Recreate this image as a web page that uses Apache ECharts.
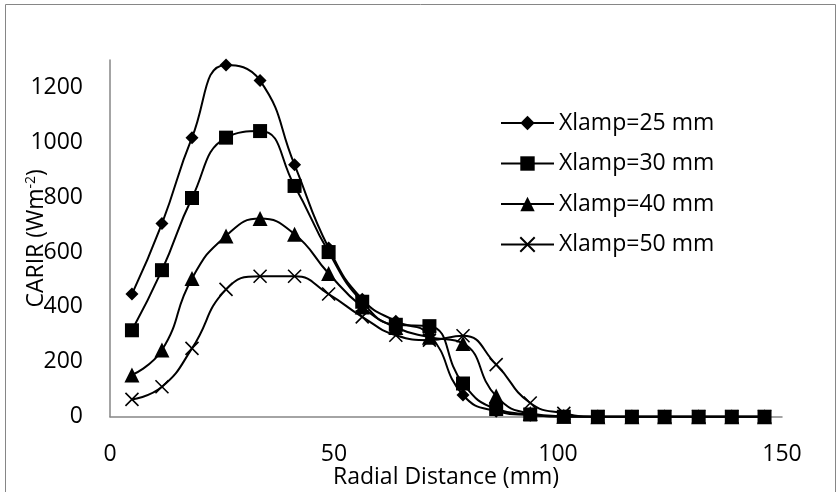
<!DOCTYPE html>
<html>
<head>
<meta charset="utf-8">
<script src="https://cdn.jsdelivr.net/npm/echarts@6/dist/echarts.min.js"></script>
<style>html,body{margin:0;padding:0;background:#fff;}#c{width:838px;height:492px;}</style>
</head>
<body>
<div id="c"></div>
<script>
const xVals = [4.9, 11.6, 18.3, 25.9, 33.5, 41.2, 48.8, 56.3, 63.8, 71.3, 78.8, 86.2, 93.8, 101.3, 108.9, 116.5, 123.8, 131.4, 138.8, 146.1];
const s25 = [447, 704, 1017, 1282, 1225, 918, 615, 428, 348, 298, 79, 20, 5, 0, 0, 0, 0, 0, 0, 0];
const s30 = [315, 534, 797, 1017, 1041, 841, 600, 419, 335, 330, 121, 28, 8, 0, 0, 0, 0, 0, 0, 0];
const s40 = [152, 243, 504, 659, 722, 665, 522, 400, 325, 290, 267, 75, 12, 2, 0, 0, 0, 0, 0, 0];
const s50 = [63, 109, 249, 464, 512, 512, 447, 364, 297, 279, 295, 190, 50, 12, 0, 0, 0, 0, 0, 0];
const seriesNames = ['Xlamp=25 mm', 'Xlamp=30 mm', 'Xlamp=40 mm', 'Xlamp=50 mm'];
const xTicks = [0, 50, 100, 150];
const yTicks = [0, 200, 400, 600, 800, 1000, 1200];

const FONT = 'Open Sans';
const FS = 23;
const pair = (ys) => xVals.map((x, i) => [x, ys[i]]);
const crossPath = 'path://M0,0 L10,10 M10,0 L0,10';

function mk(name, data, symbol, size, z, extra) {
  return Object.assign({
    name: name, type: 'line', data: pair(data), smooth: 0.5,
    symbol: symbol, symbolSize: size, z: z,
    lineStyle: {color: '#000', width: 2},
    itemStyle: {color: '#000', borderColor: '#000', borderWidth: 0},
    emphasis: {disabled: true}
  }, extra || {});
}

const chart = echarts.init(document.getElementById('c'), null, {renderer: 'canvas'});
chart.setOption({
  animation: false,
  backgroundColor: '#fff',
  textStyle: {fontFamily: FONT, color: '#000'},
  graphic: [{
    type: 'rect', shape: {x: 5.5, y: 4.5, width: 830, height: 500},
    style: {fill: 'none', stroke: '#868686', lineWidth: 1}, silent: true, z: -1
  }],
  grid: {left: 110, right: 56, top: 60, bottom: 75.3, outerBoundsMode: 'none', containLabel: false},
  legend: {
    orient: 'vertical', left: 500, top: 111.5, itemGap: 17.5, padding: 0,
    itemWidth: 53, itemHeight: 18,
    textStyle: {fontFamily: FONT, fontSize: FS, color: '#000', padding: [0, 0, 0, 0]},
    data: seriesNames
  },
  xAxis: {
    type: 'value', min: 0, max: 150, interval: 50,
    name: 'Radial Distance (mm)', nameLocation: 'middle', nameGap: 49, nameMoveOverlap: false,
    nameTextStyle: {fontFamily: FONT, fontSize: FS, color: '#000'},
    axisLine: {lineStyle: {color: '#868686', width: 1.5}},
    axisTick: {show: false},
    splitLine: {show: false},
    axisLabel: {fontFamily: FONT, fontSize: FS, color: '#000', margin: 26,
      formatter: v => xTicks.includes(v) ? String(v) : ''}
  },
  yAxis: {
    type: 'value', min: 0, max: 1300, interval: 200,
    name: '{a|CARIR (Wm}{s|-2}{a|)}', nameLocation: 'middle', nameGap: 62, nameMoveOverlap: false,
    nameTextStyle: {rich: {
      a: {fontFamily: FONT, fontSize: FS, color: '#000'},
      s: {fontFamily: FONT, fontSize: 14, color: '#000', verticalAlign: 'top', padding: [0, 0, 10, 0]}
    }},
    axisLine: {show: true, lineStyle: {color: '#868686', width: 1.5}},
    axisTick: {show: false},
    splitLine: {show: false},
    axisLabel: {fontFamily: FONT, fontSize: FS, color: '#000', margin: 27,
      formatter: v => yTicks.includes(v) ? String(v) : ''}
  },
  series: [
    mk(seriesNames[0], s25, 'diamond', 13, 2),
    mk(seriesNames[1], s30, 'rect', 14, 4),
    mk(seriesNames[2], s40, 'triangle', 15, 3),
    mk(seriesNames[3], s50, crossPath, 13, 2, {itemStyle: {color: 'none', borderColor: '#000', borderWidth: 1.6}})
  ]
});
</script>
</body>
</html>
